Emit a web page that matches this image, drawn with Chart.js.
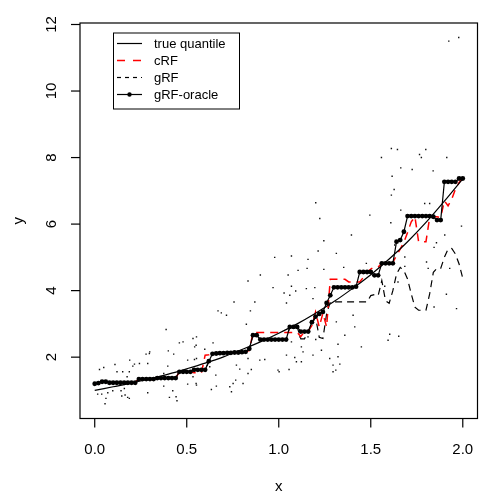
<!DOCTYPE html>
<html>
<head>
<meta charset="utf-8">
<script src="https://cdn.jsdelivr.net/npm/chart.js@4.4.0/dist/chart.umd.min.js"></script>
<style>
  body { margin: 0; background: #fff; }
  #wrap { width: 500px; height: 500px; }
</style>
</head>
<body>
<div id="wrap"><canvas id="qChart" width="500" height="500"></canvas></div>
<script>
// grid on which the forests were evaluated
const gridX = [0.00,0.02,0.04,0.06,0.08,0.10,0.12,0.14,0.16,0.18,0.20,0.22,0.24,0.26,0.28,0.30,0.32,0.34,0.36,0.38,
  0.40,0.42,0.44,0.46,0.48,0.50,0.52,0.54,0.56,0.58,0.60,0.62,0.64,0.66,0.68,0.70,0.72,0.74,0.76,0.78,
  0.80,0.82,0.84,0.86,0.88,0.90,0.92,0.94,0.96,0.98,1.00,1.02,1.04,1.06,1.08,1.10,1.12,1.14,1.16,1.18,
  1.20,1.22,1.24,1.26,1.28,1.30,1.32,1.34,1.36,1.38,1.40,1.42,1.44,1.46,1.48,1.50,1.52,1.54,1.56,1.58,
  1.60,1.62,1.64,1.66,1.68,1.70,1.72,1.74,1.76,1.78,1.80,1.82,1.84,1.86,1.88,1.90,1.92,1.94,1.96,1.98,2.00];

// gRF-oracle estimates
const oracleY = [1.20,1.22,1.26,1.26,1.23,1.23,1.23,1.23,1.23,1.23,1.23,1.23,1.34,1.34,1.34,1.34,1.34,1.37,1.37,1.37,
  1.37,1.37,1.37,1.56,1.56,1.56,1.56,1.62,1.62,1.62,1.62,1.88,2.10,2.11,2.12,2.12,2.13,2.13,2.14,2.14,
  2.15,2.16,2.25,2.66,2.66,2.53,2.53,2.53,2.53,2.53,2.53,2.53,2.53,2.91,2.91,2.91,2.77,2.77,2.77,3.05,
  3.22,3.30,3.36,3.63,3.86,4.10,4.10,4.10,4.10,4.10,4.10,4.12,4.56,4.56,4.56,4.56,4.46,4.46,4.82,4.82,
  4.82,4.82,5.47,5.52,5.77,6.24,6.24,6.24,6.24,6.24,6.24,6.24,6.22,6.12,6.12,7.27,7.27,7.27,7.27,7.37,7.37];

// cRF estimates
const crfY = [1.20,1.22,1.25,1.25,1.23,1.23,1.23,1.23,1.23,1.23,1.23,1.26,1.33,1.33,1.33,1.33,1.33,1.37,1.37,1.37,
  1.37,1.37,1.37,1.56,1.56,1.56,1.56,1.53,1.53,1.53,2.06,2.07,2.10,2.11,2.12,2.12,2.13,2.13,2.14,2.14,
  2.15,2.16,2.20,2.74,2.74,2.74,2.74,2.74,2.74,2.74,2.74,2.74,2.74,2.74,2.74,2.74,2.62,2.77,2.77,2.95,
  3.36,2.91,3.32,2.91,4.34,4.34,4.34,4.34,4.34,4.26,4.26,4.26,4.26,4.40,4.55,4.65,4.71,4.71,4.82,4.82,
  4.82,4.85,5.05,5.25,5.45,5.75,6.07,6.22,5.47,5.47,5.47,6.20,6.22,6.22,6.20,6.70,6.55,6.75,7.05,7.25,7.37];

// gRF estimates
const grfY = [1.21,1.22,1.25,1.25,1.23,1.23,1.23,1.23,1.23,1.23,1.23,1.25,1.33,1.33,1.33,1.33,1.33,1.38,1.38,1.38,
  1.38,1.38,1.38,1.56,1.56,1.56,1.56,1.62,1.62,1.62,1.62,1.86,2.10,2.11,2.12,2.12,2.13,2.13,2.14,2.14,
  2.15,2.16,2.25,2.66,2.66,2.53,2.53,2.53,2.53,2.53,2.53,2.53,2.53,2.91,2.91,2.91,2.55,2.55,2.77,3.00,
  3.20,2.60,2.56,3.30,3.66,3.66,3.66,3.66,3.66,3.66,3.66,3.66,3.66,3.66,3.66,3.85,3.88,3.85,4.30,3.70,
  3.62,4.00,4.50,4.70,4.60,4.35,3.90,3.50,3.41,3.41,3.41,3.90,4.55,4.67,4.67,5.00,5.25,5.27,5.10,4.80,4.37];

// true quantile curve
const trueX = [0.0,0.1,0.2,0.3,0.4,0.5,0.6,0.7,0.8,0.9,1.0,1.1,1.2,1.3,1.4,1.5,1.6,1.7,1.8,1.9,2.0];
const trueY = [1.00,1.11,1.22,1.35,1.49,1.65,1.82,2.01,2.23,2.46,2.72,3.00,3.32,3.67,4.06,4.48,4.95,5.47,6.05,6.69,7.36];

// observed sample
const obsX = [1.978,1.924,1.612,1.645,1.799,1.765,1.775,1.913,1.558,1.663,1.725,1.839,1.616,1.612,1.627,1.793,1.820,1.663,1.609,1.993,
  1.902,1.857,1.844,1.630,1.685,1.685,1.803,1.812,1.929,1.911,1.966,1.844,1.603,1.652,1.594,1.576,
  1.201,1.495,1.223,1.395,1.245,1.214,1.313,1.159,1.476,1.154,1.245,1.353,1.150,1.196,1.648,1.186,1.404,1.313,1.413,1.114,
  1.159,1.359,1.201,1.322,1.449,1.132,1.232,1.186,1.277,1.322,1.123,1.295,1.332,1.310,1.295,
  0.900,1.051,0.833,0.969,1.069,1.029,1.060,1.092,0.757,0.870,1.042,0.670,0.688,0.716,0.846,0.824,0.534,0.553,0.643,0.543,
  0.598,1.069,1.123,1.042,0.833,0.897,0.924,1.087,1.096,0.770,0.553,0.625,0.788,0.851,1.002,1.056,0.833,0.658,0.766,0.553,
  0.661,0.752,0.734,0.634,0.978,1.069,1.105,0.996,0.743,0.806,0.534,0.480,
  0.388,0.460,0.551,0.400,0.297,0.279,0.429,0.542,0.505,0.243,0.216,0.288,0.397,0.110,0.207,0.049,0.026,0.121,0.152,0.188,
  0.176,0.375,0.551,0.375,0.288,0.161,0.098,0.071,0.143,0.016,0.038,0.147,0.179,0.188,0.165,0.061,0.406,0.424,0.442,0.447,
  0.056,0.505,0.299,0.190];
const obsY = [11.61,11.50,8.27,8.24,8.24,8.09,8.00,8.00,8.00,7.69,7.64,7.60,7.44,6.87,7.04,6.62,6.62,6.42,6.04,5.94,
  5.67,5.44,5.30,5.37,5.01,4.73,4.86,4.67,4.67,3.89,3.46,3.51,2.69,2.63,2.51,4.13,
  6.64,6.27,6.17,5.67,5.50,5.19,5.12,4.94,4.82,4.67,4.64,4.70,4.06,4.09,4.26,3.76,3.26,3.06,2.91,2.61,
  2.61,2.66,2.53,2.39,2.31,2.16,2.21,2.06,1.96,2.01,1.86,1.76,1.79,1.61,1.56,
  4.47,4.47,4.29,4.09,4.13,3.93,3.86,3.99,3.66,3.66,3.63,3.39,3.33,3.26,3.39,2.99,2.56,2.61,2.43,2.31,
  2.24,2.46,2.31,2.06,1.96,1.91,1.93,1.99,1.86,1.76,1.96,1.71,1.64,1.63,1.56,1.63,1.51,1.46,1.31,1.16,
  1.13,1.21,1.11,1.03,5.00,5.04,4.61,1.61,0.96,1.21,1.41,2.46,
  2.83,2.43,2.36,2.19,2.11,2.09,2.09,1.93,1.91,1.81,1.79,1.81,1.73,1.78,1.73,1.69,1.63,1.56,1.56,1.56,
  1.41,1.51,1.21,1.13,0.93,1.06,0.99,0.93,0.99,0.89,0.89,0.83,0.79,0.76,0.86,0.76,0.79,0.99,0.81,0.69,
  0.60,1.19,2.16,1.91];

const xTicks = [0, 0.5, 1, 1.5, 2];
const yTicks = [2, 4, 6, 8, 10, 12];
const legendLabels = ["true quantile", "cRF", "gRF", "gRF-oracle"];

const toPoints = (xs, ys) => xs.map((x, i) => ({ x: x, y: ys[i] }));

const FONT = '"Liberation Sans", Arial, Helvetica, sans-serif';

// R-like box, axes, labels and legend
const rAxes = {
  id: 'rAxes',
  afterDraw(chart) {
    const ctx = chart.ctx;
    const a = chart.chartArea;
    const xs = chart.scales.x, ys = chart.scales.y;
    ctx.save();
    ctx.strokeStyle = '#000';
    ctx.fillStyle = '#000';
    ctx.lineWidth = 1.2;
    ctx.strokeRect(a.left, a.top, a.right - a.left, a.bottom - a.top);

    ctx.font = '15px ' + FONT;
    ctx.textAlign = 'center';
    ctx.textBaseline = 'middle';
    xTicks.forEach(v => {
      const px = xs.getPixelForValue(v);
      ctx.beginPath();
      ctx.moveTo(px, a.bottom);
      ctx.lineTo(px, a.bottom + 9);
      ctx.stroke();
      ctx.fillText(v.toFixed(1), px, 450);
    });
    yTicks.forEach(v => {
      const py = ys.getPixelForValue(v);
      ctx.beginPath();
      ctx.moveTo(a.left, py);
      ctx.lineTo(a.left - 9, py);
      ctx.stroke();
      ctx.save();
      ctx.translate(52, py);
      ctx.rotate(-Math.PI / 2);
      ctx.fillText(String(v), 0, 0);
      ctx.restore();
    });
    const midX = (a.left + a.right) / 2, midY = (a.top + a.bottom) / 2;
    ctx.fillText('x', midX, 487);
    ctx.save();
    ctx.translate(19, midY);
    ctx.rotate(-Math.PI / 2);
    ctx.fillText('y', 0, 0);
    ctx.restore();

    // legend
    ctx.lineWidth = 1;
    ctx.strokeRect(113.5, 33, 126, 76);
    ctx.font = '13px ' + FONT;
    ctx.textAlign = 'left';
    const styles = [
      { color: '#000', dash: [], width: 1.2, dot: false },
      { color: '#ff0000', dash: [8, 8], width: 1.5, dot: false },
      { color: '#000', dash: [4, 4], width: 1.2, dot: false },
      { color: '#000', dash: [], width: 1.2, dot: true }
    ];
    legendLabels.forEach((lab, i) => {
      const y = 43.5 + i * 17;
      const s = styles[i];
      ctx.strokeStyle = s.color;
      ctx.lineWidth = s.width;
      ctx.setLineDash(s.dash);
      ctx.beginPath();
      ctx.moveTo(117, y);
      ctx.lineTo(142, y);
      ctx.stroke();
      ctx.setLineDash([]);
      if (s.dot) {
        ctx.beginPath();
        ctx.arc(129.5, y, 2.2, 0, Math.PI * 2);
        ctx.fill();
      }
      ctx.fillStyle = '#000';
      ctx.fillText(lab, 154, y + 0.5);
    });
    ctx.restore();
  }
};

new Chart(document.getElementById('qChart'), {
  type: 'scatter',
  data: {
    datasets: [
      {
        label: 'gRF-oracle',
        data: toPoints(gridX, oracleY),
        showLine: true,
        borderColor: '#000',
        backgroundColor: '#000',
        borderWidth: 1.2,
        pointRadius: 2.4,
        pointBorderWidth: 0,
        order: 1
      },
      {
        label: 'true quantile',
        data: toPoints(trueX, trueY),
        showLine: true,
        borderColor: '#000',
        borderWidth: 1.2,
        pointRadius: 0,
        cubicInterpolationMode: 'monotone',
        order: 2
      },
      {
        label: 'cRF',
        data: toPoints(gridX, crfY),
        showLine: true,
        borderColor: '#ff0000',
        borderWidth: 1.5,
        borderDash: [8, 6],
        pointRadius: 0,
        order: 3
      },
      {
        label: 'gRF',
        data: toPoints(gridX, grfY),
        showLine: true,
        borderColor: '#000',
        borderWidth: 1.2,
        borderDash: [7, 5],
        pointRadius: 0,
        order: 4
      },
      {
        label: 'sample',
        data: toPoints(obsX, obsY),
        pointStyle: 'rect',
        pointRadius: 1,
        pointBorderWidth: 0,
        backgroundColor: '#111',
        order: 5
      }
    ]
  },
  options: {
    responsive: false,
    animation: false,
    devicePixelRatio: 1,
    layout: { padding: { left: 80, right: 22.5, top: 23, bottom: 81.5 } },
    plugins: { legend: { display: false }, tooltip: { enabled: false } },
    scales: {
      x: { type: 'linear', min: -0.08, max: 2.08, display: false },
      y: { type: 'linear', min: 0.156, max: 12.045, display: false }
    }
  },
  plugins: [rAxes]
});
</script>
</body>
</html>
